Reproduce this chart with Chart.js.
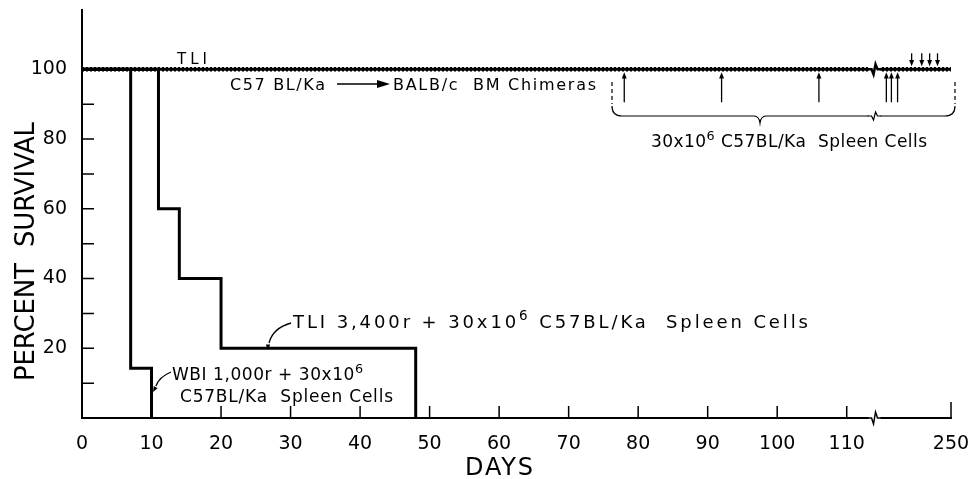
<!DOCTYPE html>
<html>
<head>
<meta charset="utf-8">
<script src="https://cdn.jsdelivr.net/npm/chart.js@4.4.0/dist/chart.umd.min.js"></script>
<style>
html, body { margin: 0; background: #fff; }
</style>
</head>
<body>
<canvas id="survChart" width="972" height="479"></canvas>
<script>
// values: days after treatment, percent survival
var wbiDays = [0, 7, 10];
var wbiSurvival = [100, 14.3, 0];
var tliDays = [0, 11, 14, 20, 48];
var tliSurvival = [100, 60, 40, 20, 0];
var chimeraDays = [0, 250];
var chimeraSurvival = [100, 100];
var tliOnlyDays = [0, 250];
var tliOnlySurvival = [100, 100];
// spleen cell injections (arrows)
var injectDaysLow = [78, 92, 106, 135, 144, 155];
var injectDaysHigh = [180, 198, 212, 226];
var xTickDays = [0, 10, 20, 30, 40, 50, 60, 70, 80, 90, 100, 110, 250];
var yTicks = [0, 10, 20, 30, 40, 50, 60, 70, 80, 90, 100];

// axis is broken after day 114, days 114-250 are squeezed in the last bit
var breakDay = 114;
var endPos = 125;
function axisX(day) {
    if (day <= breakDay) return day;
    return breakDay + (day - breakDay) * (endPos - breakDay) / (250 - breakDay);
}
function toPoints(days, vals) {
    return days.map(function(d, i) { return {x: axisX(d), y: vals[i]}; });
}

var FONT = '"DejaVu Sans", sans-serif';

// draws text stretched to a given width; parts starting with ^ are superscripts
function richText(ctx, parts, x, y, width, size) {
    var items = parts.map(function(p) {
        var sup = p.charAt(0) === '^';
        var t = sup ? p.slice(1) : p;
        var sz = sup ? size * 0.75 : size;
        ctx.font = sz + 'px ' + FONT;
        ctx.letterSpacing = '0px';
        return {t: t, sup: sup, sz: sz, w: ctx.measureText(t).width};
    });
    var total = 0, n = 0;
    items.forEach(function(it) { total += it.w; n += it.t.length; });
    var sp = (width - total) / Math.max(n - 1, 1);
    var cx = x;
    items.forEach(function(it) {
        ctx.font = it.sz + 'px ' + FONT;
        ctx.letterSpacing = sp + 'px';
        ctx.fillText(it.t, cx, it.sup ? y - size * 0.42 : y);
        cx += it.w + sp * it.t.length;
    });
    ctx.letterSpacing = '0px';
}

function arrowHead(ctx, x, y, dir, size) {
    // dir = -1 points up, 1 points down
    ctx.beginPath();
    ctx.moveTo(x, y);
    ctx.lineTo(x - size * 0.55, y - dir * size * 1.4);
    ctx.lineTo(x + size * 0.55, y - dir * size * 1.4);
    ctx.closePath();
    ctx.fill();
}

function zigzag(ctx, x, y, h) {
    ctx.fillStyle = '#fff';
    ctx.fillRect(x - 6, y - h - 2, 12, 2 * h + 4);
    ctx.fillStyle = '#000';
    ctx.beginPath();
    ctx.moveTo(x - 7, y);
    ctx.lineTo(x - 3, y);
    ctx.lineTo(x - 1, y + h);
    ctx.lineTo(x + 1, y - h);
    ctx.lineTo(x + 3, y);
    ctx.lineTo(x + 7, y);
    ctx.stroke();
}

var figurePlugin = {
    id: 'figure',
    afterDraw: function(chart) {
        var ctx = chart.ctx;
        var xs = chart.scales.x, ys = chart.scales.y;
        var area = chart.chartArea;
        ctx.save();
        ctx.strokeStyle = '#000';
        ctx.fillStyle = '#000';
        ctx.lineWidth = 1.5;

        // inward tick marks
        ctx.beginPath();
        yTicks.forEach(function(v) {
            if (v === 0) return;
            var py = ys.getPixelForValue(v);
            ctx.moveTo(area.left, py);
            ctx.lineTo(area.left + 12, py);
        });
        xTickDays.forEach(function(d) {
            if (d === 0) return;
            var px = xs.getPixelForValue(axisX(d));
            ctx.moveTo(px, area.bottom);
            ctx.lineTo(px, area.bottom - (d === 250 ? 16 : 12));
        });
        ctx.stroke();

        // axis breaks
        var bx = xs.getPixelForValue(breakDay);
        var y100 = ys.getPixelForValue(100);
        ctx.lineWidth = 1.5;
        zigzag(ctx, bx, area.bottom, 6);
        ctx.lineWidth = 2.5;
        zigzag(ctx, bx, y100, 5);

        // injection arrows
        ctx.lineWidth = 1.3;
        injectDaysLow.forEach(function(d) {
            var px = xs.getPixelForValue(axisX(d));
            ctx.beginPath();
            ctx.moveTo(px, y100 + 33);
            ctx.lineTo(px, y100 + 8);
            ctx.stroke();
            arrowHead(ctx, px, y100 + 3, -1, 4.5);
        });
        injectDaysHigh.forEach(function(d) {
            var px = xs.getPixelForValue(axisX(d));
            ctx.beginPath();
            ctx.moveTo(px, y100 - 16);
            ctx.lineTo(px, y100 - 8);
            ctx.stroke();
            arrowHead(ctx, px, y100 - 3, 1, 4.5);
        });

        // brace under the injection arrows
        var bl = 612, br = 955, bm = 760, by = 116;
        ctx.lineWidth = 1.2;
        ctx.setLineDash([4, 3]);
        ctx.beginPath();
        ctx.moveTo(bl, 82); ctx.lineTo(bl, 104);
        ctx.moveTo(br, 82); ctx.lineTo(br, 104);
        ctx.stroke();
        ctx.setLineDash([]);
        ctx.beginPath();
        ctx.moveTo(bl, 106);
        ctx.quadraticCurveTo(bl, by, bl + 10, by);
        ctx.lineTo(bm - 6, by);
        ctx.quadraticCurveTo(bm - 1, by, bm, by + 7);
        ctx.quadraticCurveTo(bm + 1, by, bm + 6, by);
        ctx.lineTo(br - 10, by);
        ctx.quadraticCurveTo(br, by, br, 106);
        ctx.stroke();
        zigzag(ctx, bx, by, 4);

        // labels
        ctx.fillStyle = '#000';
        ctx.textBaseline = 'alphabetic';
        ctx.textAlign = 'left';
        richText(ctx, ['TLI'], 177, 64, 30, 15);
        richText(ctx, ['C57 BL/Ka'], 230, 90, 95, 16);
        ctx.lineWidth = 1.5;
        ctx.beginPath();
        ctx.moveTo(337, 84); ctx.lineTo(380, 84);
        ctx.stroke();
        ctx.beginPath();
        ctx.moveTo(390, 84); ctx.lineTo(377, 80); ctx.lineTo(377, 88); ctx.closePath();
        ctx.fill();
        richText(ctx, ['BALB/c  BM Chimeras'], 393, 90, 203, 16);
        richText(ctx, ['30x10', '^6', ' C57BL/Ka  Spleen Cells'], 651, 147, 276, 17);
        richText(ctx, ['TLI 3,400r + 30x10', '^6', ' C57BL/Ka  Spleen Cells'], 293, 328, 515, 18);
        richText(ctx, ['WBI 1,000r + 30x10', '^6'], 172, 380, 191, 17);
        richText(ctx, ['C57BL/Ka  Spleen Cells'], 180, 402, 213, 17);

        // axis titles
        richText(ctx, ['DAYS'], 465, 475, 68, 24);
        ctx.save();
        ctx.translate(34, 381);
        ctx.rotate(-Math.PI / 2);
        richText(ctx, ['PERCENT  SURVIVAL'], 0, 0, 259, 26);
        ctx.restore();

        // pointers from labels to curves
        ctx.lineWidth = 1.3;
        ctx.beginPath();
        ctx.moveTo(291, 323);
        ctx.quadraticCurveTo(273, 328, 269, 343);
        ctx.stroke();
        arrowHead(ctx, 268, 350, 1, 4);
        ctx.beginPath();
        ctx.moveTo(171, 372);
        ctx.quadraticCurveTo(159, 377, 156, 386);
        ctx.stroke();
        ctx.save();
        ctx.translate(153, 392);
        ctx.rotate(0.5);
        arrowHead(ctx, 0, 0, 1, 4);
        ctx.restore();

        ctx.restore();
    }
};

var tickFont = {family: FONT, size: 19};

new Chart(document.getElementById('survChart').getContext('2d'), {
    type: 'line',
    data: {
        datasets: [{
            label: 'C57BL/Ka -> BALB/c BM Chimeras',
            data: toPoints(chimeraDays, chimeraSurvival),
            borderColor: '#000',
            borderWidth: 3,
            pointRadius: 0
        }, {
            label: 'TLI',
            data: toPoints(tliOnlyDays, tliOnlySurvival),
            borderColor: '#000',
            borderWidth: 4.5,
            borderDash: [2, 2],
            pointRadius: 0
        }, {
            label: 'TLI 3,400r + spleen cells',
            data: toPoints(tliDays, tliSurvival),
            borderColor: '#000',
            borderWidth: 3,
            stepped: true,
            pointRadius: 0
        }, {
            label: 'WBI 1,000r + spleen cells',
            data: toPoints(wbiDays, wbiSurvival),
            borderColor: '#000',
            borderWidth: 3,
            stepped: true,
            pointRadius: 0
        }]
    },
    options: {
        responsive: false,
        animation: false,
        devicePixelRatio: 1,
        layout: {padding: {left: 0, right: 21, top: 10, bottom: 0}},
        plugins: {legend: {display: false}, tooltip: {enabled: false}},
        scales: {
            x: {
                type: 'linear',
                min: 0,
                max: endPos,
                afterBuildTicks: function(s) {
                    s.ticks = xTickDays.map(function(d) { return {value: axisX(d)}; });
                },
                afterFit: function(s) {
                    s.height = 61;
                    s.paddingLeft = 0;
                    s.paddingRight = 0;
                },
                ticks: {
                    autoSkip: false,
                    maxRotation: 0,
                    padding: 7,
                    color: '#000',
                    font: tickFont,
                    callback: function(v, i) { return xTickDays[i]; }
                },
                grid: {display: false},
                border: {display: true, color: '#000', width: 2}
            },
            y: {
                min: 0,
                max: 117,
                afterBuildTicks: function(s) {
                    s.ticks = yTicks.map(function(v) { return {value: v}; });
                },
                afterFit: function(s) {
                    s.width = 82;
                    s.paddingTop = 0;
                    s.paddingBottom = 0;
                },
                ticks: {
                    padding: 7,
                    color: '#000',
                    font: tickFont,
                    callback: function(v) { return (v % 20 === 0 && v > 0) ? v : ''; }
                },
                grid: {display: false},
                border: {display: true, color: '#000', width: 2}
            }
        }
    },
    plugins: [figurePlugin]
});
</script>
</body>
</html>
